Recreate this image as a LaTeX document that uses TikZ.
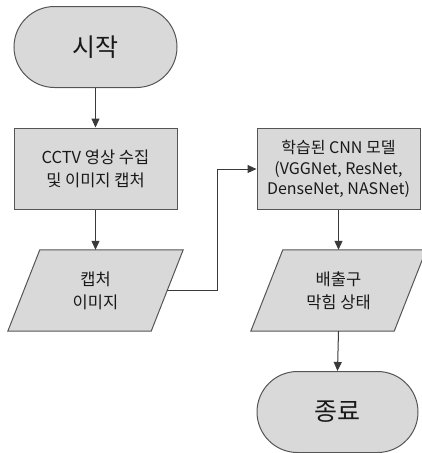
\documentclass[tikz,border=0pt]{standalone}
\usepackage{fontspec}
\setmainfont{Noto Sans CJK KR}
\usetikzlibrary{arrows.meta,shapes.misc}
\definecolor{fillc}{HTML}{D9D9D9}
\definecolor{edgec}{HTML}{555555}
\definecolor{linec}{HTML}{3A3A3A}
\begin{document}
\begin{tikzpicture}[x=1pt,y=-1pt,
  box/.style={draw=edgec, fill=fillc, line width=1pt, minimum width=163pt, minimum height=81pt, inner sep=0pt, align=center, font=\fontsize{16.5}{23}\selectfont, text=black!90},
  term/.style={box, shape=rounded rectangle, font=\fontsize{25}{30}\selectfont},
  para/.style={minimum width=143pt, minimum height=81pt, inner sep=0pt, align=center, font=\fontsize{16.5}{23}\selectfont, text=black!90},
  pshape/.style={draw=edgec, fill=fillc, line width=1pt},
  arr/.style={draw=linec, line width=1pt, -{Triangle[length=9pt,width=8pt]}}]
\useasboundingbox (0,0) rectangle (422,453);
\clip (0,0) rectangle (422,453);
% left column
\node[term] (start) at (95.5,47) {시작};
\node[box] (cctv) at (95.5,168.5) {CCTV 영상 수집\\및 이미지 캡처};
\node[para] (cap) at (95.5,290.5) {};
\draw[pshape] ([xshift=16pt]cap.north west) -- ([xshift=16pt]cap.north east) -- ([xshift=-16pt]cap.south east) -- ([xshift=-16pt]cap.south west) -- cycle;
\node[para] at (cap.center) {캡처\\이미지};
% right column
\node[box, font=\fontsize{16}{20.5}\selectfont] (model) at (338.5,169) {학습된 CNN 모델\\(VGGNet, ResNet,\\DenseNet, NASNet)};
\node[para] (out) at (338.5,290.5) {};
\draw[pshape] ([xshift=16pt]out.north west) -- ([xshift=16pt]out.north east) -- ([xshift=-16pt]out.south east) -- ([xshift=-16pt]out.south west) -- cycle;
\node[para] at (out.center) {배출구\\막힘 상태};
\node[term, minimum width=161pt] (end) at (337.5,412) {종료};
% connectors
\draw[arr] (start.south) -- (cctv.north);
\draw[arr] (cctv.south) -- (cap.north);
\draw[arr] (cap.east) -- ++(50,0) |- (model.west);
\draw[arr] (model.south) -- (out.north);
\draw[arr] (out.south) -- (end.north);
\end{tikzpicture}
\end{document}
